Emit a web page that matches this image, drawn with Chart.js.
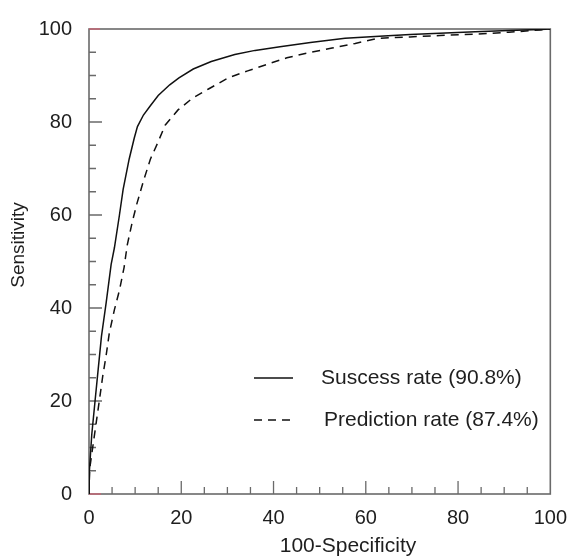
<!DOCTYPE html>
<html>
<head>
<meta charset="utf-8">
<script src="https://cdn.jsdelivr.net/npm/chart.js@4/dist/chart.umd.min.js"></script>
<style>
  html, body { margin: 0; padding: 0; background: #ffffff; }
  #wrap { width: 579px; height: 559px; }
</style>
</head>
<body>
<div id="wrap"><canvas id="roc" width="579" height="559"></canvas></div>
<script>
// ROC curves: x = 100-Specificity (%), y = Sensitivity (%)
const seriesLabels = ['Suscess rate (90.8%)', 'Prediction rate (87.4%)'];
const xTitle = '100-Specificity';
const yTitle = 'Sensitivity';

const successFpr = [0, 0, 0.1, 0.6, 1.3, 2.0, 2.7, 3.7, 4.8, 5.5, 6.6, 7.4, 8.7, 9.8, 10.5, 11.8, 13.3, 15.0, 17.5, 19.5, 22.6, 26.5, 31.6, 36, 41.4, 48, 55.5, 62, 69.6, 76, 83.7, 91, 97.8, 100];
const successTpr = [0, 1.5, 4.4, 12.8, 19.9, 26.9, 33.9, 41.0, 49.4, 52.9, 60.0, 65.5, 72.0, 76.5, 79.0, 81.5, 83.5, 85.7, 88.0, 89.5, 91.4, 93.0, 94.5, 95.4, 96.2, 97.1, 98.0, 98.4, 98.8, 99.1, 99.4, 99.7, 99.9, 100];

const predictionFpr = [0, 0, 0.2, 0.9, 1.6, 2.3, 3.0, 3.7, 4.4, 5.5, 6.6, 7.6, 8.3, 9.4, 10.4, 11.8, 13.3, 14.8, 16.5, 19.3, 22.4, 25.9, 30.2, 34.4, 38.6, 42.9, 47.1, 52.7, 57.7, 62.6, 69.6, 76, 83.7, 91, 97.8, 100];
const predictionTpr = [0, 1.5, 5.8, 10.7, 15.6, 20.5, 25.5, 29.7, 34.6, 39.6, 43.8, 48.7, 53.6, 58.6, 62.5, 67.3, 72.0, 75.3, 79.3, 82.6, 85.1, 87.1, 89.5, 91.0, 92.4, 93.8, 94.8, 95.9, 96.9, 98.0, 98.3, 98.6, 98.9, 99.3, 99.8, 100];

const axisMin = 0, axisMax = 100, majorStep = 20, minorStep = 5;

const toPoints = (xs, ys) => xs.map((x, i) => ({ x: x, y: ys[i] }));

const FONT = '"Liberation Sans", Arial, sans-serif';
const TEXT = '#1e1e1e';
const FRAME = '#6a6a6a';

// Box frame with inward-pointing major/minor ticks
const framePlugin = {
  id: 'frameTicks',
  beforeDatasetsDraw(chart) {
    const { ctx, chartArea: a, scales } = chart;
    const xs = scales.x, ys = scales.y;
    ctx.save();
    ctx.strokeStyle = FRAME;
    ctx.lineWidth = 1.6;
    ctx.strokeRect(a.left, a.top, a.right - a.left, a.bottom - a.top);
    ctx.lineWidth = 1.3;
    ctx.beginPath();
    for (let v = axisMin; v <= axisMax; v += minorStep) {
      const len = (v % majorStep === 0) ? 13 : 7;
      if (v === axisMin || v === axisMax) continue;
      const px = xs.getPixelForValue(v);
      ctx.moveTo(px, a.bottom);
      ctx.lineTo(px, a.bottom - len);
      const py = ys.getPixelForValue(v);
      ctx.moveTo(a.left, py);
      ctx.lineTo(a.left + len, py);
    }
    ctx.stroke();
    // small coloured marks at the left corners
    ctx.strokeStyle = 'rgba(220,90,110,0.7)';
    ctx.lineWidth = 1.4;
    ctx.beginPath();
    ctx.moveTo(a.left, a.top); ctx.lineTo(a.left + 11, a.top);
    ctx.moveTo(a.left, a.bottom); ctx.lineTo(a.left + 12, a.bottom);
    ctx.stroke();
    ctx.restore();
  }
};

// Axis titles, placed relative to the plot area
const axisTitles = {
  id: 'axisTitles',
  afterDraw(chart) {
    const { ctx, chartArea: a } = chart;
    ctx.save();
    ctx.fillStyle = TEXT;
    ctx.textAlign = 'center';
    ctx.textBaseline = 'middle';
    ctx.font = '21px ' + FONT;
    ctx.fillText(xTitle, a.left + 259, a.bottom + 52);
    ctx.translate(19, a.top + 216);
    ctx.rotate(-Math.PI / 2);
    ctx.font = '19px ' + FONT;
    ctx.fillText(yTitle, 0, 0);
    ctx.restore();
  }
};

// Legend drawn inside the plot, lower right
const innerLegend = {
  id: 'innerLegend',
  afterDatasetsDraw(chart) {
    const { ctx, chartArea: a } = chart;
    const rows = [
      { y: a.top + 349, textX: a.left + 232 },
      { y: a.top + 391, textX: a.left + 235 }
    ];
    ctx.save();
    ctx.font = '21px ' + FONT;
    ctx.fillStyle = TEXT;
    ctx.textBaseline = 'middle';
    chart.data.datasets.forEach((ds, i) => {
      const r = rows[i];
      ctx.strokeStyle = ds.borderColor;
      ctx.lineWidth = 1.4;
      ctx.setLineDash(ds.borderDash || []);
      ctx.beginPath();
      ctx.moveTo(a.left + 165, r.y);
      ctx.lineTo(a.left + 204, r.y);
      ctx.stroke();
      ctx.setLineDash([]);
      ctx.fillText(ds.label, r.textX, r.y);
    });
    ctx.restore();
  }
};

new Chart(document.getElementById('roc'), {
  type: 'scatter',
  data: {
    datasets: [
      {
        label: seriesLabels[0],
        data: toPoints(successFpr, successTpr),
        showLine: true,
        borderColor: '#111111',
        borderWidth: 1.5,
        pointRadius: 0,
        tension: 0
      },
      {
        label: seriesLabels[1],
        data: toPoints(predictionFpr, predictionTpr),
        showLine: true,
        borderColor: '#111111',
        borderWidth: 1.5,
        borderDash: [8, 6],
        pointRadius: 0,
        tension: 0
      }
    ]
  },
  options: {
    responsive: false,
    animation: false,
    layout: { padding: { top: 20, right: 17, left: 0, bottom: 0 } },
    plugins: {
      legend: { display: false },
      tooltip: { enabled: false }
    },
    scales: {
      x: {
        type: 'linear',
        min: axisMin, max: axisMax,
        grid: { display: false, drawTicks: false },
        border: { display: false },
        ticks: { stepSize: majorStep, padding: 12, color: TEXT, font: { family: FONT, size: 20 } },
        afterFit(scale) { scale.height = 65; }
      },
      y: {
        type: 'linear',
        min: axisMin, max: axisMax,
        grid: { display: false, drawTicks: false },
        border: { display: false },
        ticks: { stepSize: majorStep, padding: 17, color: TEXT, font: { family: FONT, size: 20 } },
        afterFit(scale) { scale.width = 89; }
      }
    }
  },
  plugins: [framePlugin, axisTitles, innerLegend]
});
</script>
</body>
</html>
